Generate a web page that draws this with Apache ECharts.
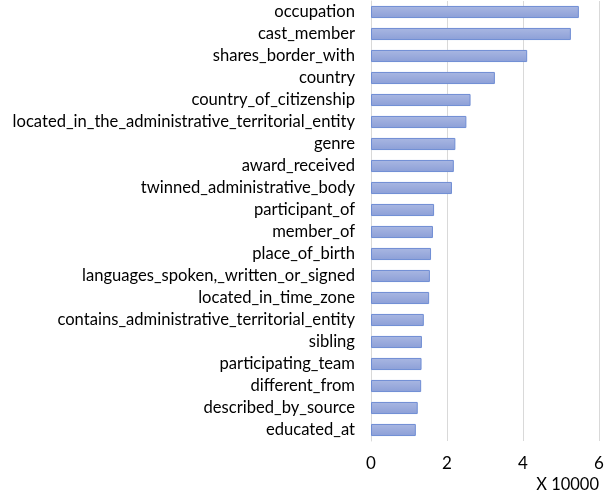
<!DOCTYPE html>
<html>
<head>
<meta charset="utf-8">
<script src="https://cdn.jsdelivr.net/npm/echarts@6/dist/echarts.min.js"></script>
<style>html,body{margin:0;padding:0;background:#fff;}#c{width:607px;height:495px;}</style>
</head>
<body>
<div id="c"></div>
<script>
const categories = [
  "occupation","cast_member","shares_border_with","country","country_of_citizenship",
  "located_in_the_administrative_territorial_entity","genre","award_received",
  "twinned_administrative_body","participant_of","member_of","place_of_birth",
  "languages_spoken,_written_or_signed","located_in_time_zone",
  "contains_administrative_territorial_entity","sibling","participating_team",
  "different_from","described_by_source","educated_at"
];
const values = [5.47,5.26,4.11,3.26,2.62,2.51,2.22,2.18,2.13,1.66,1.63,1.58,1.55,1.53,1.39,1.34,1.33,1.32,1.23,1.18];
const xTicks = [0,2,4,6];
const unitLabel = "X 10000";

const chart = echarts.init(document.getElementById('c'));
const font = 'Lato, "Open Sans", sans-serif';
chart.setOption({
  animation: false,
  grid: {left: 371, right: 8, top: 1, bottom: 54, containLabel: false},
  xAxis: {
    type: 'value', min: 0, max: 6, interval: 2,
    axisLine: {show: false}, axisTick: {show: false},
    splitLine: {lineStyle: {color: '#d9d9d9', width: 1}},
    axisLabel: {color: '#000', fontSize: 17, fontFamily: font, margin: 14,
      formatter: v => xTicks.includes(v) ? String(v) : ''}
  },
  yAxis: {
    type: 'category', data: categories, inverse: true,
    axisLine: {show: true, lineStyle: {color: '#d9d9d9'}},
    axisTick: {show: false},
    axisLabel: {color: '#000', fontSize: 16.6, fontFamily: font, margin: 16, interval: 0}
  },
  graphic: [{
    type: 'text', right: 8, top: 476,
    style: {text: unitLabel, fill: '#000', font: '16.5px ' + font}
  }],
  series: [{
    type: 'bar', data: values, barWidth: '55%',
    itemStyle: {
      color: new echarts.graphic.LinearGradient(0,0,0,1,[
        {offset: 0, color: '#a9b7e2'}, {offset: 1, color: '#8c9fd7'}
      ]),
      borderColor: '#6f8dd4', borderWidth: 1
    }
  }]
});
</script>
</body>
</html>
